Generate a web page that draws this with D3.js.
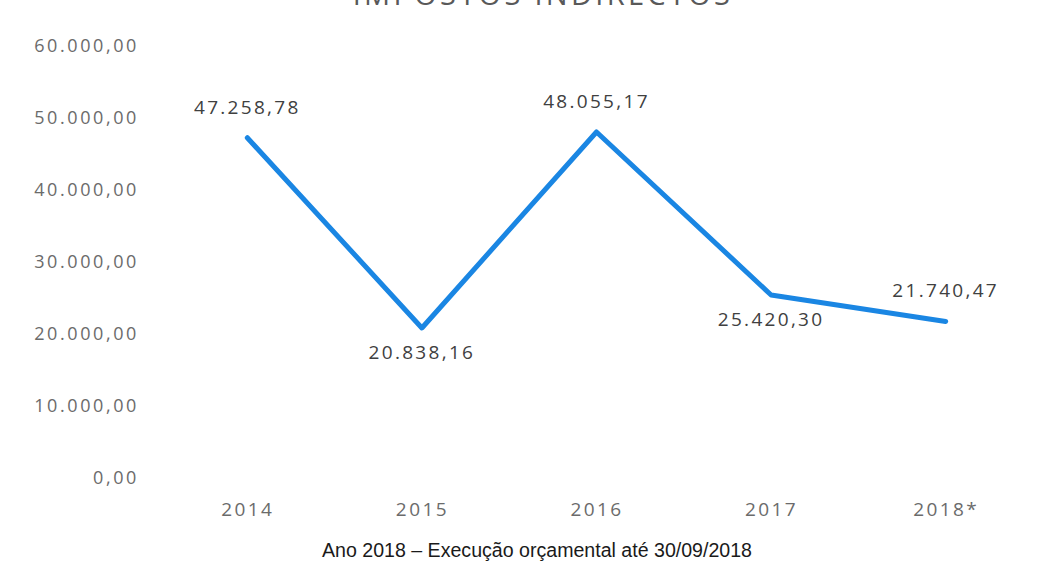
<!DOCTYPE html>
<html>
<head>
<meta charset="utf-8">
<script src="https://cdn.jsdelivr.net/npm/d3@7"></script>
<style>
  body { margin: 0; background: #fff; }
</style>
</head>
<body>
<svg id="main-svg"></svg>
<script>
// DATA
const years = ["2014", "2015", "2016", "2017", "2018*"]
const values = [47258.78, 20838.16, 48055.17, 25420.30, 21740.47]
const labelSide = ["above", "below", "above", "below", "above"]
const yTicks = [0, 10000, 20000, 30000, 40000, 50000, 60000]

// SPACING
const WIDTH = 1056
const HEIGHT = 565
const PLOT_LEFT = 160
const PLOT_RIGHT = 1033
const Y_TOP = 46
const Y_BOTTOM = 478

// STYLE
const LINE_COLOR = "#1a86e3"
const TICK_COLOR = "#6b6b6b"
const LABEL_COLOR = "#404040"
const FONT = "'Open Sans', 'Noto Sans', sans-serif"

const fmt = v => {
  const [i, d] = v.toFixed(2).split(".")
  return i.replace(/\B(?=(\d{3})+(?!\d))/g, ".") + "," + d
}

const svg = d3.select("#main-svg")
  .attr("width", WIDTH)
  .attr("height", HEIGHT)

svg.append("rect").attr("width", WIDTH).attr("height", HEIGHT).attr("fill", "#fff")

const x = d3.scalePoint().domain(years).range([PLOT_LEFT, PLOT_RIGHT]).padding(0.5)
const y = d3.scaleLinear().domain([0, 60000]).range([Y_BOTTOM, Y_TOP])

// title, cut off at the top like the scan
svg.append("text")
  .attr("x", 543).attr("y", 5)
  .attr("text-anchor", "middle")
  .attr("font-family", FONT)
  .attr("font-size", 29)
  .attr("letter-spacing", 3.3)
  .attr("fill", "#595959")
  .text("IMPOSTOS INDIRECTOS")

// y axis
const yAxis = svg.append("g")
  .attr("transform", `translate(${139},0)`)
  .call(d3.axisLeft(y).tickValues(yTicks).tickFormat(fmt).tickSize(0).tickPadding(0))
yAxis.select(".domain").remove()
yAxis.selectAll("text")
  .attr("font-family", FONT)
  .attr("font-size", 18)
  .attr("letter-spacing", 2.6)
  .attr("fill", TICK_COLOR)

// x axis
const xAxis = svg.append("g")
  .attr("transform", `translate(0,${502})`)
  .call(d3.axisBottom(x).tickSize(0).tickPadding(0))
xAxis.select(".domain").remove()
xAxis.selectAll("text")
  .attr("font-family", FONT)
  .attr("font-size", 19)
  .attr("letter-spacing", 2.4)
  .attr("fill", TICK_COLOR)

// line
const data = years.map((yr, i) => ({ year: yr, value: values[i], side: labelSide[i] }))
svg.append("path")
  .datum(data)
  .attr("fill", "none")
  .attr("stroke", LINE_COLOR)
  .attr("stroke-width", 5)
  .attr("stroke-linejoin", "round")
  .attr("stroke-linecap", "round")
  .attr("d", d3.line().x(d => x(d.year)).y(d => y(d.value)))

// data labels
svg.append("g")
  .selectAll("text")
  .data(data)
  .join("text")
  .attr("x", d => x(d.year))
  .attr("y", d => y(d.value) + (d.side === "above" ? -24 : 31))
  .attr("text-anchor", "middle")
  .attr("font-family", FONT)
  .attr("font-size", 19)
  .attr("letter-spacing", 2.3)
  .attr("fill", LABEL_COLOR)
  .text(d => fmt(d.value))

// footnote, narrow face
svg.append("text")
  .attr("x", 322).attr("y", 557)
  .attr("font-family", "'Liberation Sans Narrow', 'Arial Narrow', 'Liberation Sans', sans-serif")
  .attr("font-size", 20)
  .attr("textLength", 430)
  .attr("lengthAdjust", "spacingAndGlyphs")
  .attr("fill", "#1a1a1a")
  .text("Ano 2018 – Execução orçamental até 30/09/2018")
</script>
</body>
</html>
